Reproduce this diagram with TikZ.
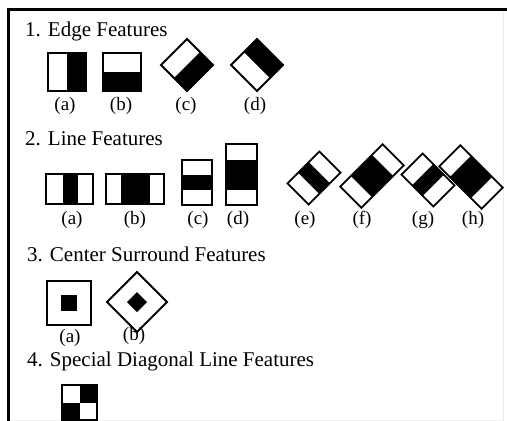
\documentclass[tikz,border=0pt]{standalone}
\usepackage{fontspec}
\setmainfont{Liberation Serif}
\begin{document}
\begin{tikzpicture}[x=1pt,y=-1pt,
  outl/.style={draw=black,line width=1.8pt,line join=miter},
  blk/.style={fill=black},
  ttl/.style={anchor=base west,inner sep=0pt,font=\fontsize{21}{25}\selectfont},
  lbl/.style={anchor=base,inner sep=0pt,font=\fontsize{19}{22}\selectfont}]
\useasboundingbox (0,0) rectangle (507,421);
\fill[white] (0,0) rectangle (507,421);
% frame
\draw[black!8,line width=1pt] (503,12) -- (503,421);
\draw[black!6,line width=1pt] (8,420) -- (503,420);
\draw[line width=3pt] (8,421) -- (8,9) -- (507,9);

% ---- 1. Edge features
\node[ttl] (t1) at (25,36.7) {1. Edge Features};
% (a)
\fill[blk] (67,53) rectangle (86,91);
\draw[outl] (48,53) rectangle (86,91);
% (b)
\fill[blk] (103,72) rectangle (141,91);
\draw[outl] (103,53) rectangle (141,91);
% (c)
\fill[blk] (200,52) -- (213,65) -- (187,91) -- (174,78) -- cycle;
\draw[outl] (161,65) -- (187,39) -- (213,65) -- (187,91) -- cycle;
% (d)
\fill[blk] (244,52) -- (257,39) -- (283,65) -- (270,78) -- cycle;
\draw[outl] (231,65) -- (257,39) -- (283,65) -- (257,91) -- cycle;
\node[lbl] (l1a) at (65,110) {(a)};
\node[lbl] (l1b) at (121,110) {(b)};
\node[lbl] (l1c) at (186,110) {(c)};
\node[lbl] (l1d) at (255,110) {(d)};

% ---- 2. Line features
\node[ttl] (t2) at (25,145) {2. Line Features};
% (a)
\fill[blk] (62.5,174) rectangle (78,204);
\draw[outl] (46,174) rectangle (93,204);
% (b)
\fill[blk] (121,174) rectangle (150,204);
\draw[outl] (106,174) rectangle (164,204);
% (c)
\fill[blk] (182,175) rectangle (212,190);
\draw[outl] (182,160) rectangle (212,205);
% (d)
\fill[blk] (226,159.5) rectangle (257,189.5);
\draw[outl] (226,144) rectangle (257,205);
% (e)
\begin{scope}[shift={(314,178)},rotate=-45]
  \fill[blk] (-15,-7.5) rectangle (15,7.5);
  \draw[outl] (-15,-22.5) rectangle (15,22.5);
\end{scope}
% (f)
\begin{scope}[shift={(372,176)},rotate=-45]
  \fill[blk] (-15,-15) rectangle (15,15);
  \draw[outl] (-15,-30) rectangle (15,30);
\end{scope}
% (g)
\begin{scope}[shift={(428,180)},rotate=45]
  \fill[blk] (-15,-7.5) rectangle (15,7.5);
  \draw[outl] (-15,-22.5) rectangle (15,22.5);
\end{scope}
% (h)
\begin{scope}[shift={(471,177)},rotate=45]
  \fill[blk] (-15,-15) rectangle (15,15);
  \draw[outl] (-15,-30) rectangle (15,30);
\end{scope}
\node[lbl] (l2a) at (72,224.5) {(a)};
\node[lbl] (l2b) at (135,224.5) {(b)};
\node[lbl] (l2c) at (198,224.5) {(c)};
\node[lbl] (l2d) at (238,224.5) {(d)};
\node[lbl] (l2e) at (305,224.5) {(e)};
\node[lbl] (l2f) at (362,224.5) {(f)};
\node[lbl] (l2g) at (423,224.5) {(g)};
\node[lbl] (l2h) at (473,224.5) {(h)};

% ---- 3. Center surround features
\node[ttl] (t3) at (27,261) {3. Center Surround Features};
\fill[blk] (61,295) rectangle (77,311);
\draw[outl] (47,281) rectangle (91,325);
\fill[blk] (127,302) -- (137,292) -- (147,302) -- (137,312) -- cycle;
\draw[outl] (107,302) -- (137,272) -- (167,302) -- (137,332) -- cycle;
\node[lbl] (l3a) at (70,342) {(a)};
\node[lbl] (l3b) at (134,340) {(b)};

% ---- 4. Special diagonal line features
\node[ttl] (t4) at (27,366) {4. Special Diagonal Line Features};
\fill[blk] (79.5,385) rectangle (97,402.5);
\fill[blk] (62,402.5) rectangle (79.5,420);
\draw[outl] (62,385) rectangle (97,420);
\end{tikzpicture}
\end{document}
